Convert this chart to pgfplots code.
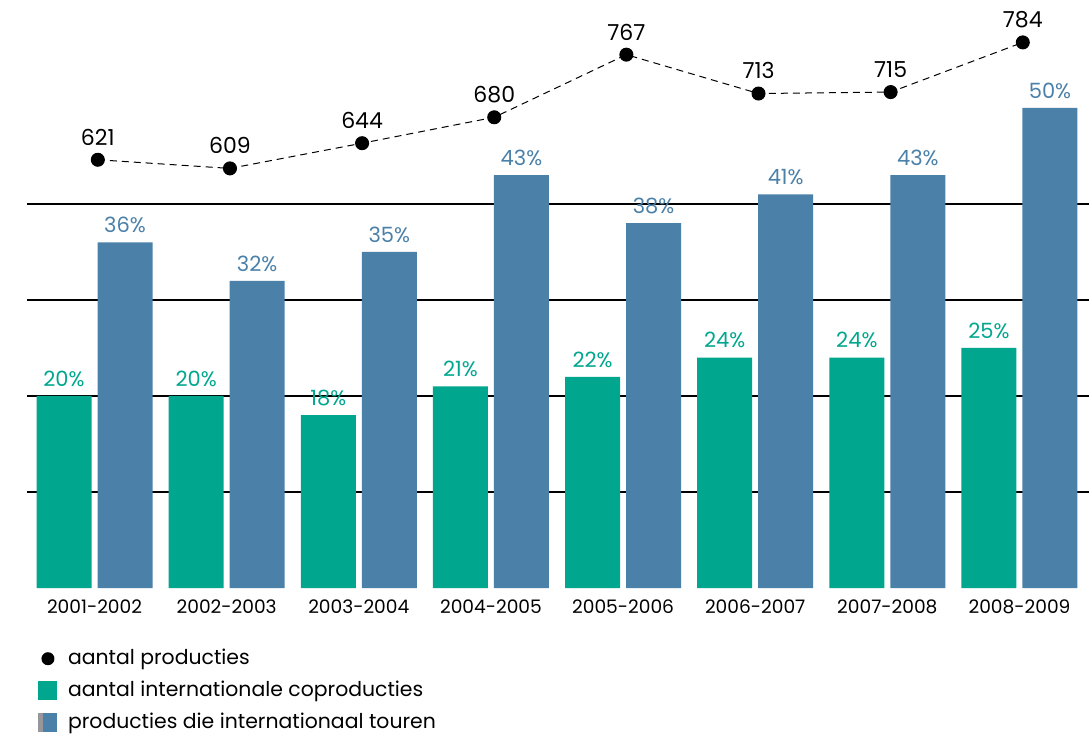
\documentclass[border=0pt]{standalone}
\usepackage{pgfplots}
\pgfplotsset{compat=1.18}
\usepackage{fontspec}
\setmainfont{Poppins}
\definecolor{cgreen}{RGB}{0,166,142}
\definecolor{cblue}{RGB}{75,128,168}
\definecolor{cgray}{RGB}{150,150,155}
\begin{document}
\begin{tikzpicture}
\path[use as bounding box] (-13.5pt,-73pt) rectangle (531pt,294pt);
\begin{axis}[
  at={(0,0)}, anchor=south west,
  width=531pt, height=294pt, scale only axis,
  xmin=-0.511, xmax=7.526, ymin=0, ymax=61.25,
  axis line style={draw=none},
  ytick={10,20,30,40}, yticklabels={}, ymajorgrids,
  grid style={black, line width=0.6pt},
  major tick length=0pt,
  xtick={0,...,7},
  xticklabels={2001-2002,2002-2003,2003-2004,2004-2005,2005-2006,2006-2007,2007-2008,2008-2009},
  xticklabel style={font=\fontsize{9.3}{11}\selectfont, inner sep=0pt, anchor=north, yshift=-5.5pt},
  clip=false,
  /pgf/number format/assume math mode=true,
  legend cell align=left,
  legend style={at={(0.0104,-0.097)}, anchor=north west, draw=none, fill=none,
    inner sep=0pt, font=\fontsize{10.2}{12}\selectfont, row sep=2.7pt,
    /tikz/every odd column/.append style={column sep=3.3pt}},
]
\addlegendimage{legend image code/.code={\path[draw=none,fill=none] (0pt,-4.75pt) rectangle (9.5pt,4.75pt); \fill[black,draw=none] (4.75pt,0pt) circle (3.25pt);}}
\addlegendentry{aantal producties}
\addlegendimage{legend image code/.code={\fill[cgreen,draw=none] (0pt,-4.75pt) rectangle (9.5pt,4.75pt);}}
\addlegendentry{aantal internationale coproducties}
\addlegendimage{legend image code/.code={\fill[cgray,draw=none] (0pt,-4.75pt) rectangle (2.5pt,4.75pt); \fill[cblue,draw=none] (2.5pt,-4.75pt) rectangle (9.5pt,4.75pt);}}
\addlegendentry{producties die internationaal touren}

\addplot[ybar, bar width=27.5pt, bar shift=-15.25pt, fill=cgreen, draw=none, forget plot,
  nodes near coords={\pgfmathprintnumber{\pgfplotspointmeta}\%},
  every node near coord/.append style={text=cgreen, font=\fontsize{10.5}{12}\selectfont, inner sep=0pt, anchor=south, xshift=-15.25pt, yshift=4.5pt}]
  coordinates {(0,20) (1,20) (2,18) (3,21) (4,22) (5,24) (6,24) (7,25)};
\addplot[ybar, bar width=27.5pt, bar shift=15.25pt, fill=cblue, draw=none, forget plot,
  nodes near coords={\pgfmathprintnumber{\pgfplotspointmeta}\%},
  every node near coord/.append style={text=cblue, font=\fontsize{10.5}{12}\selectfont, inner sep=0pt, anchor=south, xshift=15.25pt, yshift=4.5pt}]
  coordinates {(0,36) (1,32) (2,35) (3,43) (4,38) (5,41) (6,43) (7,50)};
\end{axis}
\begin{axis}[
  at={(0,0)}, anchor=south west,
  width=531pt, height=294pt, scale only axis,
  xmin=-0.511, xmax=7.526, ymin=26.3, ymax=842.9,
  hide axis, clip=false,
  /pgf/number format/assume math mode=true,
]
\addplot[black, line width=0.5pt, dash pattern=on 3.5pt off 2.5pt, mark=*, mark size=3.25pt, mark options={solid},
  nodes near coords,
  every node near coord/.append style={text=black, font=\fontsize{11}{13}\selectfont, inner sep=0pt, anchor=south, yshift=7pt}]
  coordinates {(0.025,621) (1.025,609) (2.025,644) (3.025,680) (4.025,767) (5.025,713) (6.025,715) (7.025,784)};
\end{axis}
\end{tikzpicture}
\end{document}
